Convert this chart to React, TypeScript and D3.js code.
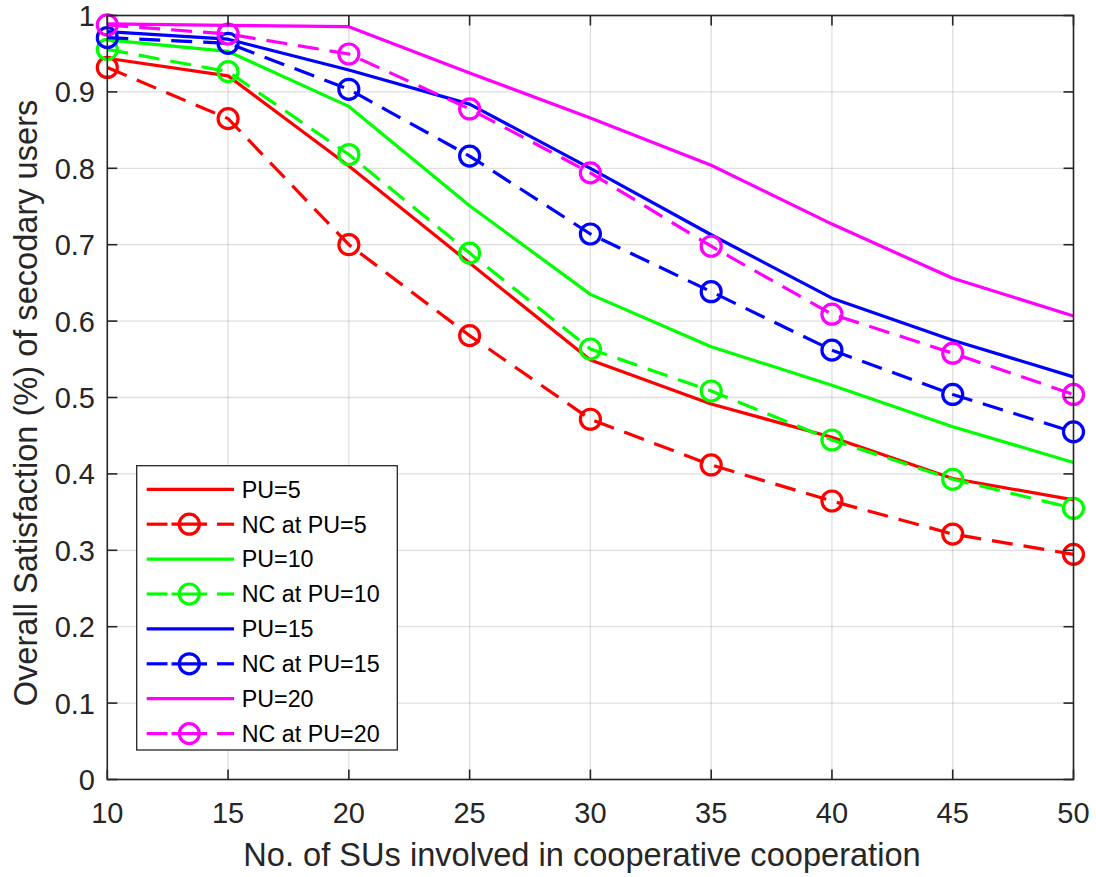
import React from "react";
import * as d3 from "d3";

const xValues = [10, 15, 20, 25, 30, 35, 40, 45, 50];
const xTicks = [10, 15, 20, 25, 30, 35, 40, 45, 50];
const yTicks = [0, 0.1, 0.2, 0.3, 0.4, 0.5, 0.6, 0.7, 0.8, 0.9, 1];

const pu5 = [0.944, 0.921, 0.803, 0.676, 0.549, 0.4915, 0.448, 0.394, 0.366];
const nc5 = [0.932, 0.865, 0.7, 0.581, 0.4715, 0.4117, 0.3645, 0.3213, 0.2947];
const pu10 = [0.968, 0.953, 0.881, 0.751, 0.635, 0.5665, 0.516, 0.4618, 0.415];
const nc10 = [0.9557, 0.9265, 0.818, 0.689, 0.5635, 0.5085, 0.4444, 0.393, 0.355];
const pu15 = [0.979, 0.969, 0.9287, 0.884, 0.8, 0.713, 0.63, 0.575, 0.527];
const nc15 = [0.971, 0.9636, 0.9034, 0.816, 0.714, 0.6385, 0.562, 0.504, 0.455];
const pu20 = [0.989, 0.987, 0.9854, 0.9247, 0.866, 0.804, 0.727, 0.656, 0.6067];
const nc20 = [0.9876, 0.9758, 0.9496, 0.8777, 0.794, 0.698, 0.609, 0.558, 0.504];

const seriesNames = ["PU=5", "NC at PU=5", "PU=10", "NC at PU=10", "PU=15", "NC at PU=15", "PU=20", "NC at PU=20"];
const seriesValues = [pu5, nc5, pu10, nc10, pu15, nc15, pu20, nc20];
const seriesColors = ["#ff0000", "#ff0000", "#00ff00", "#00ff00", "#0000ff", "#0000ff", "#ff00ff", "#ff00ff"];
const seriesDashed = [false, true, false, true, false, true, false, true];

const xLabel = "No. of SUs involved in cooperative cooperation";
const yLabel = "Overall Satisfaction (%) of secodary users";

const W = 1096;
const H = 877;
const L = 107.3, R = 1073.5, T = 15.5, B = 779.5;
const AX = "#262626";
const FONT = "'Liberation Sans', Arial, Helvetica, sans-serif";
const DASH = "21,11";
const LW = 3.2;

export default function App() {
  const x = d3.scaleLinear().domain([10, 50]).range([L, R]);
  const y = d3.scaleLinear().domain([0, 1]).range([B, T]);
  const line = d3
    .line<number>()
    .x((_, i) => x(xValues[i]))
    .y((d) => y(d));

  const legX = 136.7, legY = 465.7, legW = 260.6, legH = 284.3;
  const rowH = 34.9;
  const row0 = 489.3;

  return (
    <svg width={W} height={H} style={{ position: "absolute", left: 0, top: 0, background: "#fff" }} fontFamily={FONT}>
      <rect x={0} y={0} width={W} height={H} fill="#fff" />
      <rect x={L} y={T} width={R - L} height={B - T} fill="#fff" />
      {/* grid */}
      {xTicks.map((t) => (
        <line key={"gx" + t} x1={x(t)} x2={x(t)} y1={T} y2={B} stroke="#262626" strokeOpacity={0.15} strokeWidth={1.3} />
      ))}
      {yTicks.map((t) => (
        <line key={"gy" + t} x1={L} x2={R} y1={y(t)} y2={y(t)} stroke="#262626" strokeOpacity={0.15} strokeWidth={1.3} />
      ))}
      {/* series */}
      {seriesValues.map((vals, si) => (
        <g key={"s" + si}>
          <path
            d={line(vals) || ""}
            fill="none"
            stroke={seriesColors[si]}
            strokeWidth={LW}
            strokeDasharray={seriesDashed[si] ? DASH : undefined}
            strokeLinejoin="round"
          />
          {seriesDashed[si] &&
            vals.map((v, i) => (
              <circle key={i} cx={x(xValues[i])} cy={y(v)} r={10} fill="none" stroke={seriesColors[si]} strokeWidth={LW} />
            ))}
        </g>
      ))}
      {/* axes box */}
      <rect x={L} y={T} width={R - L} height={B - T} fill="none" stroke={AX} strokeWidth={1.6} />
      {/* ticks */}
      {xTicks.map((t) => (
        <g key={"tx" + t}>
          <line x1={x(t)} x2={x(t)} y1={B} y2={B - 10} stroke={AX} strokeWidth={1.6} />
          <line x1={x(t)} x2={x(t)} y1={T} y2={T + 10} stroke={AX} strokeWidth={1.6} />
          <text x={x(t)} y={823} textAnchor="middle" fontSize={29} fill={AX}>
            {t}
          </text>
        </g>
      ))}
      {yTicks.map((t) => (
        <g key={"ty" + t}>
          <line x1={L} x2={L + 10} y1={y(t)} y2={y(t)} stroke={AX} strokeWidth={1.6} />
          <line x1={R} x2={R - 10} y1={y(t)} y2={y(t)} stroke={AX} strokeWidth={1.6} />
          <text x={95} y={y(t) + 10.5} textAnchor="end" fontSize={29} fill={AX}>
            {t === 0 || t === 1 ? String(t) : t.toFixed(1)}
          </text>
        </g>
      ))}
      {/* axis titles */}
      <text x={582} y={866} textAnchor="middle" fontSize={32.6} fill={AX}>
        {xLabel}
      </text>
      <text
        transform={`translate(36.5, 403) rotate(-90)`}
        textAnchor="middle"
        fontSize={32.6}
        fill={AX}
      >
        {yLabel}
      </text>
      {/* legend */}
      <rect x={legX} y={legY} width={legW} height={legH} fill="#fff" stroke={AX} strokeWidth={1.3} />
      {seriesNames.map((name, si) => {
        const ry = row0 + si * rowH;
        return (
          <g key={"l" + si}>
            {seriesDashed[si] ? (
              <>
                <line x1={146.7} x2={167.5} y1={ry} y2={ry} stroke={seriesColors[si]} strokeWidth={LW} />
                <line x1={171.5} x2={207} y1={ry} y2={ry} stroke={seriesColors[si]} strokeWidth={LW} />
                <line x1={217} x2={234} y1={ry} y2={ry} stroke={seriesColors[si]} strokeWidth={LW} />
                <circle cx={189.3} cy={ry} r={10} fill="none" stroke={seriesColors[si]} strokeWidth={LW} />
              </>
            ) : (
              <line x1={146.7} x2={234} y1={ry} y2={ry} stroke={seriesColors[si]} strokeWidth={LW} />
            )}
            <text x={241.7} y={ry + 8.3} fontSize={23.3} fill="#000">
              {name}
            </text>
          </g>
        );
      })}
    </svg>
  );
}
